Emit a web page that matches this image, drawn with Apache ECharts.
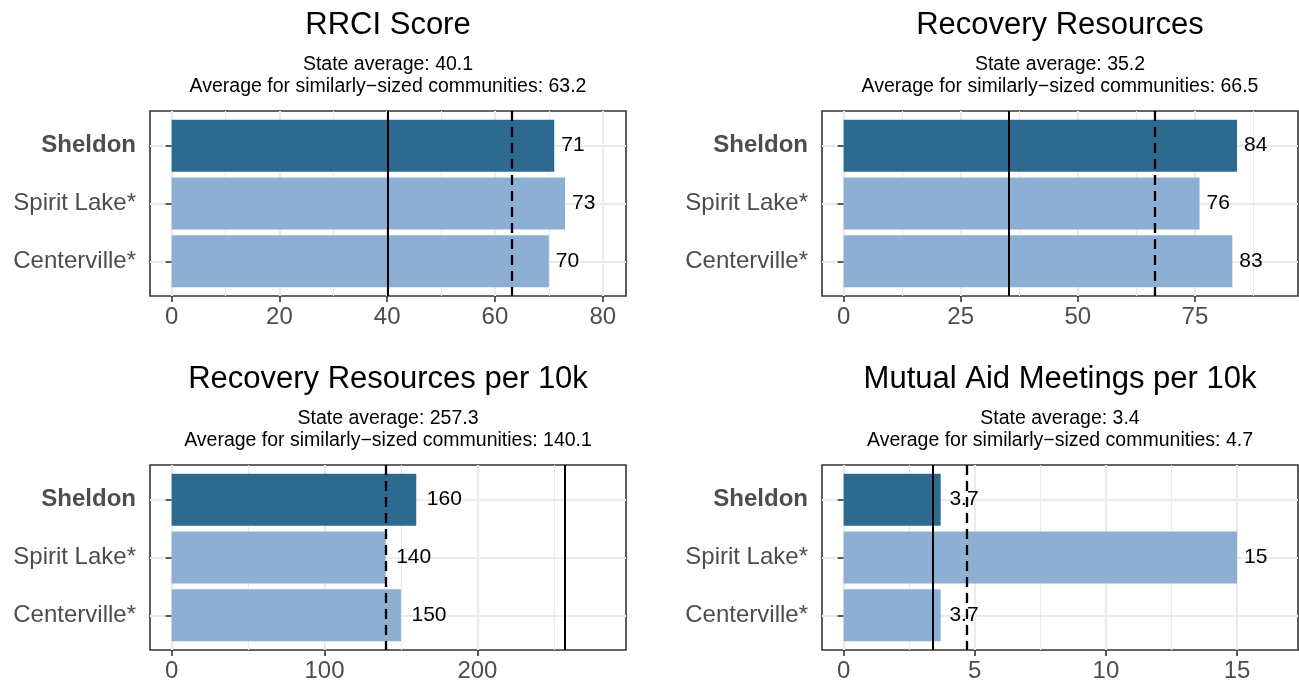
<!DOCTYPE html>
<html><head><meta charset="utf-8">
<script src="https://cdn.jsdelivr.net/npm/echarts@6/dist/echarts.min.js"></script>
<style>html,body{margin:0;padding:0;background:#fff}#c{width:1299px;height:683px}</style>
</head><body><div id="c"></div>
<script>
// ---------- data ----------
const categories = ['Sheldon', 'Spirit Lake*', 'Centerville*'];
const highlight = 'Sheldon';
const panelTitles = ['RRCI Score', 'Recovery Resources', 'Recovery Resources per 10k', 'Mutual Aid Meetings per 10k'];
const rrciValues = [71, 73, 70];
const resourcesValues = [84, 76, 83];
const resourcesPer10kValues = [160, 140, 150];
const meetingsPer10kValues = [3.7, 15, 3.7];
const stateAverages = [40.1, 35.2, 257.3, 3.4];
const similarAverages = [63.2, 66.5, 140.1, 4.7];
const ticksRrci = [0, 20, 40, 60, 80];
const ticksResources = [0, 25, 50, 75];
const ticksPer10k = [0, 100, 200];
const ticksMeetings = [0, 5, 10, 15];

// ---------- layout / style ----------
const FONT = '"Liberation Sans", Arial, Helvetica, sans-serif';
const panels = [
  {vals: rrciValues, ticks: ticksRrci, left: 150, top: 111},
  {vals: resourcesValues, ticks: ticksResources, left: 822, top: 111},
  {vals: resourcesPer10kValues, ticks: ticksPer10k, left: 150, top: 465},
  {vals: meetingsPer10kValues, ticks: ticksMeetings, left: 822, top: 465}
];
const W = 476, H = 185;
const unit = H / 3.2;           // one category step
const dark = '#2E6A8F', light = '#8DAFD3';

const ctx = document.createElement('canvas').getContext('2d');
ctx.font = '21px ' + FONT;
const fmt = v => String(v);

const grids = [], xAxes = [], yAxes = [], series = [], titles = [];
panels.forEach((p, k) => {
  const all = p.vals.concat([stateAverages[k], similarAverages[k]]);
  const M = Math.max.apply(null, all) * 1.1;
  const mn = -0.05 * M, mx = 1.05 * M;
  const step = p.ticks[1] - p.ticks[0];
  const minors = [];
  for (let t = p.ticks[0] + step / 2; t < mx; t += step) minors.push(t);
  const cx = p.left + W / 2;
  const titleTop = p.top - 101;

  titles.push({text: panelTitles[k], left: cx, top: titleTop, textAlign: 'center', padding: 0,
    textStyle: {fontFamily: FONT, fontSize: 31, fontWeight: 'normal', color: '#000', lineHeight: 31}});
  titles.push({text: 'State average: ' + stateAverages[k].toFixed(1) + '\nAverage for similarly\u2212sized communities: ' + similarAverages[k].toFixed(1),
    left: cx, top: titleTop + 44, textAlign: 'center', padding: 0,
    textStyle: {fontFamily: FONT, fontSize: 19.5, fontWeight: 'normal', color: '#000', lineHeight: 22}});

  // frame grid
  grids.push({left: p.left, top: p.top, width: W, height: H, show: true, borderColor: '#333333', borderWidth: 1.6, backgroundColor: 'transparent'});
  // bar grid
  grids.push({left: p.left, top: p.top + 0.1 * unit, width: W, height: 3 * unit, show: false});
  const gF = 2 * k, gB = 2 * k + 1;

  const xF = xAxes.length;
  xAxes.push({type: 'value', gridIndex: gF, min: mn, max: mx, position: 'bottom',
    axisLine: {show: false},
    axisTick: {show: true, length: 6, customValues: p.ticks, lineStyle: {color: '#333333', width: 1.6}},
    axisLabel: {customValues: p.ticks, color: '#4D4D4D', fontSize: 24, fontFamily: FONT, margin: 9},
    splitLine: {show: true, lineStyle: {color: '#EBEBEB', width: 2.2}}});
  xAxes.push({type: 'value', gridIndex: gF, min: mn, max: mx, position: 'top',
    axisLine: {show: false}, axisTick: {show: false, customValues: minors},
    axisLabel: {show: false, customValues: minors},
    splitLine: {show: true, lineStyle: {color: '#EBEBEB', width: 1.1}}});
  const xB = xAxes.length;
  xAxes.push({type: 'value', gridIndex: gB, min: mn, max: mx, show: false});

  const yF = yAxes.length;
  yAxes.push({type: 'value', gridIndex: gF, min: 0.4, max: 3.6, inverse: true,
    axisLine: {show: false},
    axisTick: {show: true, length: 6, customValues: [1, 2, 3], lineStyle: {color: '#333333', width: 1.6}},
    axisLabel: {customValues: [1, 2, 3], color: '#4D4D4D', fontSize: 24, fontFamily: FONT, margin: 14,
      formatter: v => { const n = categories[Math.round(v) - 1]; return n === highlight ? '{b|' + n + '}' : n; },
      rich: {b: {fontWeight: 'bold', fontSize: 24, color: '#4D4D4D', fontFamily: FONT}}},
    splitLine: {show: true, lineStyle: {color: '#EBEBEB', width: 2.2}}});
  const yB = yAxes.length;
  yAxes.push({type: 'category', gridIndex: gB, data: categories, inverse: true, show: false});

  series.push({type: 'bar', xAxisIndex: xB, yAxisIndex: yB, barWidth: 0.9 * unit, z: 2, animation: false,
    data: p.vals.map((v, i) => ({value: v,
      itemStyle: {color: categories[i] === highlight ? dark : light},
      label: {distance: 0.3 * ctx.measureText(fmt(v)).width}})),
    label: {show: true, position: 'right', color: '#000', fontSize: 21, fontFamily: FONT, formatter: q => fmt(q.value)}});
  series.push({type: 'line', xAxisIndex: xF, yAxisIndex: yF, data: [], z: 5, animation: false,
    markLine: {silent: true, symbol: 'none', animation: false, label: {show: false}, z: 5,
      data: [
        {xAxis: stateAverages[k], lineStyle: {type: 'solid', width: 2, color: '#000'}},
        {xAxis: similarAverages[k], lineStyle: {type: [10, 6], width: 2.3, color: '#000'}}
      ]}});
});

const chart = echarts.init(document.getElementById('c'), null, {renderer: 'canvas'});
chart.setOption({backgroundColor: '#fff', animation: false, title: titles, grid: grids, xAxis: xAxes, yAxis: yAxes, series: series});
</script></body></html>
